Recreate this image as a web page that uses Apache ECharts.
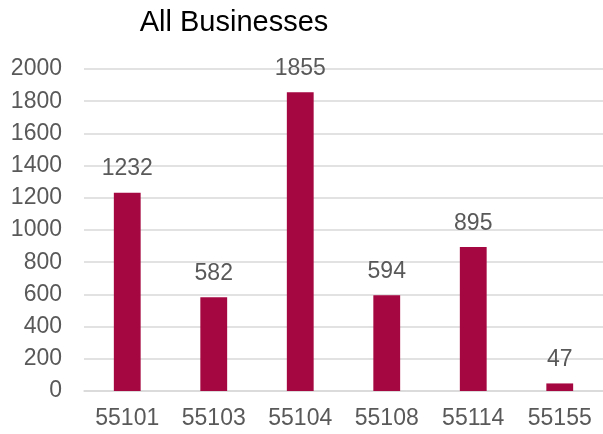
<!DOCTYPE html>
<html>
<head>
<meta charset="utf-8">
<script src="https://cdn.jsdelivr.net/npm/echarts@6/dist/echarts.min.js"></script>
<style>
html,body{margin:0;padding:0;background:#fff;}
#chart{width:603px;height:434px;}
</style>
</head>
<body>
<div id="chart"></div>
<script>
// ZIP codes and business counts
const categories = ['55101', '55103', '55104', '55108', '55114', '55155'];
const businesses = [1232, 582, 1855, 594, 895, 47];
const yTicks = [0, 200, 400, 600, 800, 1000, 1200, 1400, 1600, 1800, 2000];

const chart = echarts.init(document.getElementById('chart'));
const font = 'Liberation Sans, Arial, sans-serif';
chart.setOption({
  animation: false,
  title: {
    text: 'All Businesses',
    left: 229, top: 3, textAlign: 'center',
    textStyle: { fontFamily: font, fontSize: 29, fontWeight: 'normal', color: '#000' }
  },
  grid: { left: 84, right: -1, top: 69, bottom: 43 },
  xAxis: {
    type: 'category',
    data: categories,
    axisTick: { show: false },
    axisLine: { lineStyle: { color: '#d9d9d9', width: 1.5 } },
    axisLabel: { color: '#595959', fontFamily: font, fontSize: 23, margin: 16 }
  },
  yAxis: {
    type: 'value',
    min: yTicks[0], max: yTicks[yTicks.length - 1], interval: 200,
    axisLine: { show: false },
    axisTick: { show: false },
    splitLine: { lineStyle: { color: '#d9d9d9', width: 1.5 } },
    axisLabel: {
      color: '#595959', fontFamily: font, fontSize: 23, margin: 22,
      formatter: v => String(v)
    }
  },
  series: [{
    type: 'bar',
    data: businesses,
    barWidth: '31%',
    itemStyle: { color: '#A50741' },
    label: {
      show: true, position: 'top', distance: 12,
      color: '#595959', fontFamily: font, fontSize: 23
    }
  }]
});
</script>
</body>
</html>
